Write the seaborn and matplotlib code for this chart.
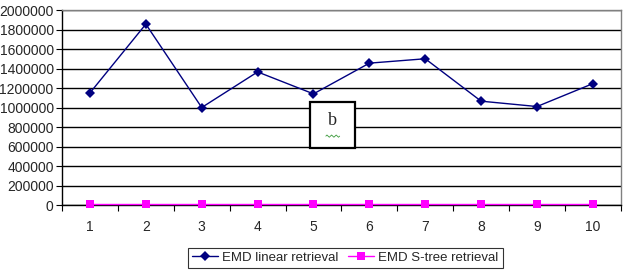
import numpy as np
import pandas as pd
import matplotlib
matplotlib.use("Agg")
import matplotlib.pyplot as plt
import seaborn as sns
from matplotlib.patches import Rectangle
from matplotlib.lines import Line2D
from matplotlib.ticker import FixedLocator, NullFormatter

# values
queries = [1, 2, 3, 4, 5, 6, 7, 8, 9, 10]
linear_retrieval = [1150000, 1855000, 1000000, 1365000, 1140000,
                    1455000, 1500000, 1065000, 1010000, 1245000]
stree_retrieval = [8000, 8000, 8000, 8000, 8000, 8000, 8000, 8000, 8000, 8000]
series_names = ["EMD linear retrieval", "EMD S-tree retrieval"]
y_ticks = [0, 200000, 400000, 600000, 800000, 1000000,
           1200000, 1400000, 1600000, 1800000, 2000000]

df = pd.DataFrame({
    "query": queries * 2,
    "time": linear_retrieval + stree_retrieval,
    "series": [series_names[0]] * len(queries) + [series_names[1]] * len(queries),
})

sns.set_style("white")
plt.rcParams["font.family"] = ["Liberation Sans", "DejaVu Sans"]

fig = plt.figure(figsize=(6.29, 2.75), dpi=100)
ax = fig.add_axes([0.0986, 0.2545, 0.8884, 0.7091])

sns.lineplot(data=df, x="query", y="time", hue="series", style="series",
             palette={series_names[0]: "#000080", series_names[1]: "#FF00FF"},
             markers={series_names[0]: "D", series_names[1]: "s"},
             dashes=False, markersize=5.5, linewidth=1.0,
             markeredgewidth=0, ax=ax, legend=True)
for ln in ax.lines:
    ln.set_zorder(4)
    ln.set_clip_on(False)

ax.set_xlim(0.5, 10.5)
ax.set_ylim(0, 2000000)
ax.set_yticks(y_ticks)
ax.set_yticklabels([str(v) for v in y_ticks], fontsize=10)
ax.yaxis.grid(True, color="black", linewidth=1)
ax.set_axisbelow(True)

# category ticks between labels, labels at centers
ax.xaxis.set_major_locator(FixedLocator([i + 0.5 for i in range(0, 11)]))
ax.xaxis.set_major_formatter(NullFormatter())
ax.xaxis.set_minor_locator(FixedLocator(queries))
ax.set_xticklabels([str(q) for q in queries], minor=True, fontsize=10)
ax.tick_params(axis="x", which="major", direction="out", length=4, color="black", bottom=True)
ax.tick_params(axis="x", which="minor", length=0, pad=11)
ax.tick_params(axis="y", direction="out", length=4, color="black", left=True, pad=2)
ax.set_xlabel("")
ax.set_ylabel("")

ax.spines["left"].set_color("black")
ax.spines["bottom"].set_color("black")
ax.spines["top"].set_color("#808080")
ax.spines["right"].set_color("#808080")
for s in ax.spines.values():
    s.set_linewidth(1)
    s.set_zorder(2)

handles, labels = ax.get_legend_handles_labels()
ax.get_legend().remove()
leg = fig.legend(handles, labels, loc="center", bbox_to_anchor=(0.549, 0.062),
                 ncol=2, frameon=True, fancybox=False, edgecolor="black",
                 fontsize=9.5, handlelength=2.0, handletextpad=0.3,
                 columnspacing=0.7, borderpad=0.3)
leg.get_frame().set_linewidth(0.8)

# the little "b" text box sitting on the chart
fig.patches.append(Rectangle((0.493, 0.462), 0.0715, 0.167, transform=fig.transFigure,
                             facecolor="white", edgecolor="black", linewidth=1.6,
                             zorder=5))
fig.text(0.529, 0.56, "b", family=["Liberation Serif", "DejaVu Serif"],
         fontsize=13, ha="center", va="center", zorder=6)
wx = np.linspace(0.518, 0.540, 13)
wy = 0.505 + 0.004 * np.array([0, 1, 0, -1] * 3 + [0])
fig.lines.append(Line2D(wx, wy, transform=fig.transFigure, color="#3a9a3a",
                        linewidth=0.6, zorder=6))

fig.savefig("out.png", dpi=100)
